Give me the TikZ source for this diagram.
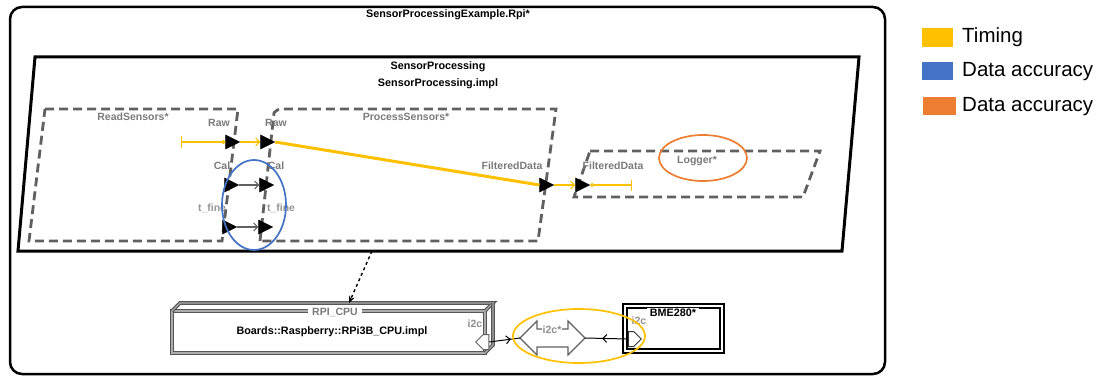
\documentclass[tikz,border=0pt]{standalone}
\usepackage{fontspec}
\setmainfont{Liberation Sans}
\usetikzlibrary{shapes.geometric,shapes.symbols,arrows.meta,decorations.markings}
\definecolor{tyel}{HTML}{FFC000}
\definecolor{tblue}{HTML}{4472C4}
\definecolor{torange}{HTML}{ED7D31}
\definecolor{dgray}{HTML}{606060}
\definecolor{lgray}{HTML}{7A7A7A}
\begin{document}
\begin{tikzpicture}[x=1pt,y=-1pt,
  comp/.style={draw=dgray, line width=2.8pt, dash pattern=on 9pt off 5pt},
  ttl/.style={font=\bfseries\fontsize{10.8}{12}\selectfont, text=black, inner sep=1pt},
  glbl/.style={font=\bfseries\fontsize{10.5}{12}\selectfont, text=lgray, inner sep=1pt},
  portT/.style={isosceles triangle, isosceles triangle stretches, fill=black, draw=black, inner sep=0pt, minimum width=14pt, minimum height=14pt},
  flowthick/.style={draw=tyel, line width=3pt},
  flowthin/.style={draw=tyel, line width=1.2pt},
  conn/.style={draw=dgray, line width=1.1pt},
  hl/.style={line width=1.7pt},
  boxline/.style={draw=dgray!90!black, line width=1.2pt, double=gray!65, double distance=1.2pt},
  busport/.style={signal, draw=dgray, fill=white, line width=1pt, inner sep=0pt, minimum width=13pt, minimum height=15pt},
  legtxt/.style={font=\fontsize{20.5}{24}\selectfont, anchor=west, inner sep=0pt},
  midarr/.style={postaction={decorate}, decoration={markings, mark=at position #1 with {\arrow{Straight Barb[length=4pt,width=8pt]}}}}
]
\useasboundingbox (0,0) rectangle (1105,377);

% outer system
\draw[line width=2.5pt, rounded corners=12pt] (10,7) rectangle (885,374);
\node[ttl] (sysT) at (448,15) {SensorProcessingExample.Rpi*};

% SensorProcessing process
\draw[line width=3pt] (35,57) -- (859,57) -- (842,251) -- (18,251) -- cycle;
\node[ttl] (spT1) at (438,67) {SensorProcessing};
\node[ttl] (spT2) at (438,84) {SensorProcessing.impl};
\coordinate (spBot) at (372,251);

% threads
\draw[comp] (45,109) -- (238,109) -- (222,241) -- (29,241) -- cycle;
\node[glbl] (rsT) at (133,117) {ReadSensors*};
\draw[comp] (260,241) -- (274,113) [rounded corners=4pt] -- (277,109) [sharp corners] -- (556,109) -- (538,241) -- cycle;
\node[glbl] (psT) at (406,117) {ProcessSensors*};
\draw[comp] (590,151) -- (820,151) -- (803,197) -- (574,197) -- cycle;
\node[glbl] (lgT) at (697,161) {Logger*};

% ports
\node[portT] (rsRaw) at (230,142) {};
\node[portT] (psRaw) at (265,142) {};
\node[portT] (rsCal) at (229,185) {};
\node[portT] (psCal) at (264,185) {};
\node[portT] (rsTf) at (227,227) {};
\node[portT] (psTf) at (263,227) {};
\node[portT] (psFD) at (544,185) {};
\node[portT] (lgFD) at (580,185) {};

\node[glbl] (lRaw1) at (219,123) {Raw};
\node[glbl] (lRaw2) at (276,123) {Raw};
\node[glbl] (lCal1) at (222,166) {Cal};
\node[glbl] (lCal2) at (276,166) {Cal};
\node[glbl, text=lgray!80] (lTf1) at (212,208) {t\_fine};
\node[glbl, text=lgray!80] (lTf2) at (281,208) {t\_fine};
\node[glbl] (lFD1) at (512,166) {FilteredData};
\node[glbl] (lFD2) at (613,166) {FilteredData};

% flows and connections
\coordinate (fsrc) at (181,142);
\coordinate (fsnk) at (632,185);
\draw[flowthin, {Bar[width=11pt]}-{Circle[open,length=4pt]}] (fsrc) -- (rsRaw.west);
\draw[flowthin, -{Straight Barb[length=4pt,width=8pt]}] (rsRaw.east) -- (psRaw.west);
\draw[flowthick] (psRaw.east) -- (psFD.west);
\draw[flowthin, -{Straight Barb[length=4pt,width=8pt]}] (psFD.east) -- (lgFD.west);
\draw[flowthin, {Circle[open,length=4pt]}-{Bar[width=11pt]}] (lgFD.east) -- (fsnk);
\draw[conn, -{Straight Barb[length=4pt,width=8pt]}] (rsCal.east) -- (psCal.west);
\draw[conn, -{Straight Barb[length=4pt,width=8pt]}] (rsTf.east) -- (psTf.west);

% highlights
\draw[tblue, hl] (254,205) ellipse [x radius=32, y radius=45];
\draw[torange, hl] (703,158) ellipse [x radius=44, y radius=23];

% RPI_CPU processor
\draw[boxline] (172,311) rectangle (485,353);
\draw[boxline] (172,311) -- (180,303) -- (493,303) -- (485,311);
\draw[boxline] (493,303) -- (493,345) -- (485,353);
\coordinate (rpiTop) at (349,303);
\node[glbl, fill=white, inner xsep=4pt] (rpiT) at (335,312) {RPI\_CPU};
\node[ttl] (rpiImpl) at (332,332) {Boards::Raspberry::RPi3B\_CPU.impl};
\node[glbl, text=lgray!85] (rpiI2c) at (475,324) {i2c};
\node[busport, signal to=west] (rpiP) at (486,342) {};

\draw[dashed, line width=1.4pt, -{Stealth[length=7pt,width=6pt]}] (spBot) -- (rpiTop);

% bus i2c*
\coordinate (busL) at (520,338);
\coordinate (busR) at (585,338);
\draw[dgray, line width=1.1pt] (busL) -- (537,321) -- (537,329) -- (568,329) -- (568,321) -- (busR) -- (568,355) -- (568,347) -- (537,347) -- (537,355) -- cycle;
\node[glbl, fill=white, text=lgray!85] (busT) at (552,330) {i2c*};

% BME280 device
\draw[line width=1.3pt] (623,304) rectangle (724,353);
\draw[line width=1.3pt] (627,308) rectangle (720,349);
\node[ttl, fill=white, inner xsep=3pt] (bmeT) at (673,313) {BME280*};
\node[glbl, text=lgray!85] (bmeI2c) at (639,321) {i2c};
\node[busport, signal to=east, draw=black!80] (bmeP) at (631,339) {};

\draw[black, line width=1pt, midarr=0.7] (rpiP.east) -- (busL);
\draw[black, line width=1pt, midarr=0.6] (bmeP.west) -- (busR);

\draw[tyel, hl] (579,336) ellipse [x radius=66, y radius=27];

% legend
\fill[tyel] (922,28) rectangle (953,47);
\node[legtxt] (lg1) at (962,37) {Timing};
\fill[tblue] (922,62) rectangle (953,80);
\node[legtxt] (lg2) at (962,72) {Data accuracy};
\fill[torange] (923,97) rectangle (956,115);
\node[legtxt] (lg3) at (962,107) {Data accuracy};
\end{tikzpicture}
\end{document}
